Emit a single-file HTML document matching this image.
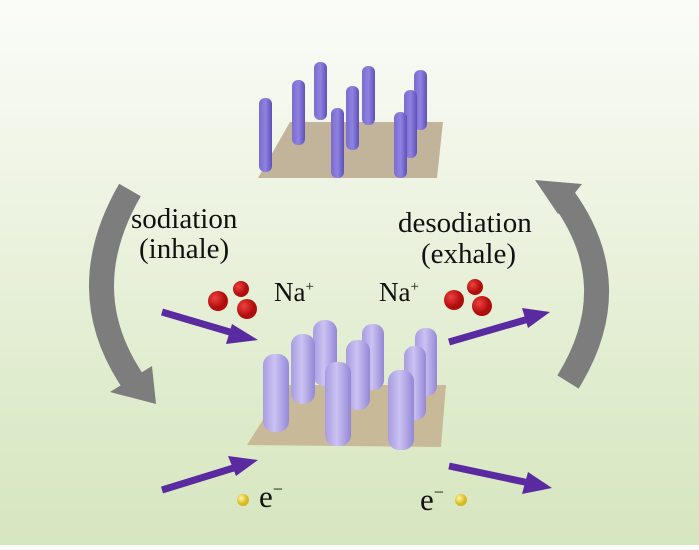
<!DOCTYPE html>
<html><head><meta charset="utf-8"><style>
html,body{margin:0;padding:0;}
body{width:699px;height:545px;overflow:hidden;background:linear-gradient(180deg,#fbfcf9 0%,#eef4e3 35%,#e0ecce 70%,#d6e6bf 100%);}
text{font-family:"Liberation Serif",serif;fill:#111;}
</style></head><body>
<svg width="699" height="545" viewBox="0 0 699 545" xmlns="http://www.w3.org/2000/svg">
<defs>
<linearGradient id="thin" x1="0" x2="1"><stop offset="0" stop-color="#7a6cd0"/><stop offset="0.5" stop-color="#8f82e0"/><stop offset="1" stop-color="#5f50b8"/></linearGradient>
<linearGradient id="thick" x1="0" x2="1"><stop offset="0" stop-color="#a89ce0"/><stop offset="0.45" stop-color="#cbc2f2"/><stop offset="1" stop-color="#9487d6"/></linearGradient>
<radialGradient id="red" cx="0.35" cy="0.35"><stop offset="0" stop-color="#f04040"/><stop offset="1" stop-color="#b00d0d"/></radialGradient>
<radialGradient id="yel" cx="0.35" cy="0.35"><stop offset="0" stop-color="#fff6a0"/><stop offset="1" stop-color="#d8b820"/></radialGradient>
</defs>
<path d="M130,190 Q72,290 132,380" fill="none" stroke="#7d7d7d" stroke-width="25"/>
<polygon points="110,392 152,366 156,404" fill="#7d7d7d"/>
<path d="M568,382 Q628,285 562,196" fill="none" stroke="#7d7d7d" stroke-width="25"/>
<polygon points="535,180 582,184 558,214" fill="#7d7d7d"/>
<polygon points="290,122 443,122 437,178 258,178" fill="#c2b49a"/>
<g fill="url(#thin)">
<rect x="314" y="62" width="13" height="58" rx="6"/>
<rect x="362" y="66" width="13" height="59" rx="6"/>
<rect x="414" y="70" width="13" height="60" rx="6"/>
<rect x="292" y="80" width="13" height="65" rx="6"/>
<rect x="346" y="86" width="13" height="64" rx="6"/>
<rect x="404" y="90" width="13" height="68" rx="6"/>
<rect x="259" y="98" width="13" height="74" rx="6"/>
<rect x="331" y="108" width="13" height="70" rx="6"/>
<rect x="394" y="112" width="13" height="66" rx="6"/>
</g>
<polygon points="285,385 446,385 441,447 247,445" fill="#c8b998"/>
<g fill="url(#thick)">
<rect x="313" y="320" width="24" height="66" rx="11"/>
<rect x="362" y="324" width="22" height="66" rx="10"/>
<rect x="415" y="328" width="22" height="68" rx="10"/>
<rect x="291" y="334" width="24" height="70" rx="11"/>
<rect x="346" y="340" width="24" height="70" rx="11"/>
<rect x="404" y="346" width="22" height="74" rx="10"/>
<rect x="263" y="354" width="26" height="78" rx="11"/>
<rect x="325" y="362" width="26" height="84" rx="11"/>
<rect x="388" y="370" width="26" height="80" rx="11"/>
</g>
<g stroke="#5a2aa0" stroke-width="7" fill="#5a2aa0">
<line x1="162" y1="312" x2="240" y2="335"/>
<line x1="449" y1="342" x2="532" y2="318"/>
<line x1="162" y1="490" x2="240" y2="466"/>
<line x1="449" y1="466" x2="534" y2="484"/>
</g>
<g fill="#5a2aa0">
<polygon points="258,340 232,324 226,344"/>
<polygon points="550,312 522,308 528,328"/>
<polygon points="258,460 228,456 236,476"/>
<polygon points="552,488 528,472 522,494"/>
</g>
<g fill="url(#red)">
<circle cx="218" cy="301" r="10"/><circle cx="241" cy="289" r="8"/><circle cx="247" cy="309" r="10"/>
<circle cx="454" cy="300" r="10"/><circle cx="475" cy="287" r="8"/><circle cx="482" cy="306" r="10"/>
</g>
<circle cx="243" cy="500" r="6" fill="url(#yel)"/>
<circle cx="461" cy="500" r="6" fill="url(#yel)"/>
<text x="131" y="228" font-size="29">sodiation</text>
<text x="139" y="258" font-size="29">(inhale)</text>
<text x="398" y="232" font-size="29">desodiation</text>
<text x="421" y="263" font-size="29">(exhale)</text>
<text x="274" y="301" font-size="27">Na<tspan font-size="15" dy="-10">+</tspan></text>
<text x="379" y="301" font-size="27">Na<tspan font-size="15" dy="-10">+</tspan></text>
<text x="259" y="507" font-size="31">e<tspan font-size="18" dy="-12">−</tspan></text>
<text x="420" y="510" font-size="31">e<tspan font-size="18" dy="-12">−</tspan></text>
</svg>
</body></html>
